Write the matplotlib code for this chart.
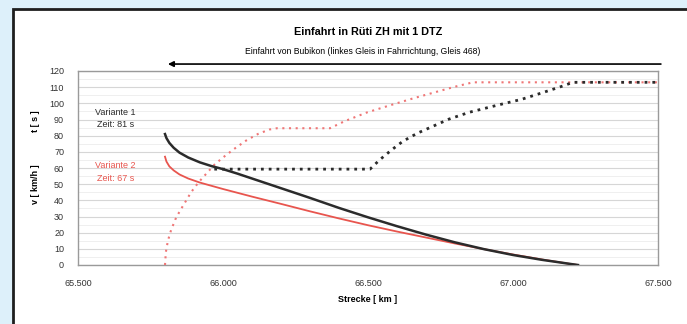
# Einfahrt Rüti ZH: speed and time over distance for two variants

import matplotlib
matplotlib.use("Agg")
from matplotlib import pyplot as plt
from matplotlib.patches import Rectangle

# Variante 1: speed [km/h]
v1_km = [65.800, 65.805, 65.815, 65.830, 65.850, 65.880, 65.920, 65.960, 66.000,
         66.050, 66.100, 66.200, 66.300, 66.400, 66.500, 66.600, 66.700, 66.800,
         66.900, 67.000, 67.100, 67.200, 67.224]
v1_kmh = [81, 78.5, 75.5, 72.5, 69.5, 66.5, 63.5, 61.2, 59.3,
          56.5, 53.5, 47.5, 41.5, 35.3, 29.5, 24, 18.8, 14,
          9.8, 6.2, 3.2, 0.6, 0]

# Variante 2: speed [km/h]
v2_km = [65.800, 65.805, 65.815, 65.830, 65.850, 65.880, 65.920, 65.960, 66.000,
         66.100, 66.200, 66.300, 66.400, 66.500, 66.600, 66.700, 66.800, 66.900,
         67.000, 67.100, 67.200, 67.224]
v2_kmh = [67, 64, 61, 58.5, 56, 53.5, 51, 49, 47,
          42.3, 37.8, 33.2, 28.8, 24.6, 20.7, 17, 13.3, 9.8,
          6.5, 3.4, 0.6, 0]

# Variante 1: time [s]
t1_km = [65.970, 66.507, 66.540, 66.580, 66.620, 66.670, 66.720, 66.780, 66.850,
         66.945, 67.030, 67.100, 67.160, 67.207, 67.500]
t1_s = [59.3, 59.3, 65, 71, 76.5, 81.5, 85.5, 90.3, 94.5,
        98.8, 102.5, 106.5, 110, 113, 113]

# Variante 2: time [s]
t2_km = [65.800, 65.803, 65.810, 65.820, 65.835, 65.850, 65.870, 65.890, 65.915,
         65.940, 65.970, 66.000, 66.040, 66.080, 66.120, 66.160, 66.186, 66.369,
         66.420, 66.497, 66.580, 66.660, 66.730, 66.800, 66.862, 67.500]
t2_s = [0, 8, 15, 21, 28, 33, 39, 45, 51,
        56, 62, 66.5, 72, 77, 81, 83.8, 84.6, 84.6,
        89, 94.4, 99, 103.3, 106.8, 110.3, 113, 113]

x_ticks = [65.5, 66.0, 66.5, 67.0, 67.5]
x_tick_labels = ["65.500", "66.000", "66.500", "67.000", "67.500"]
y_ticks = list(range(0, 121, 10))

BLACK = "#2b2b2b"
RED = "#e8554e"
PINK = "#ef7676"

plt.rcParams["font.family"] = ["Liberation Sans", "DejaVu Sans"]
plt.rcParams["font.size"] = 6.5

fig = plt.figure(figsize=(6.87, 3.24), dpi=100)
fig.patch.set_facecolor("#ddf0fa")

# White panel with dark border on the left and top
panel = Rectangle((13 / 687, -0.2), 1.2, 1.2 - 9 / 324, transform=fig.transFigure,
                  facecolor="white", edgecolor="#1e1e1e", lw=2, zorder=-10)
fig.patches.append(panel)

ax = fig.add_axes([78 / 687, 1 - 265 / 324, 580 / 687, 194 / 324])
ax.set_facecolor("white")

# Grid
ax.set_yticks(y_ticks)
ax.set_yticks(range(5, 120, 10), minor=True)
ax.grid(axis="y", which="major", color="#d6d6d6", lw=0.8)
ax.grid(axis="y", which="minor", color="#ececec", lw=0.6)
ax.set_axisbelow(True)

# Speed curves
ax.plot(v2_km, v2_kmh, color=RED, lw=1.3, zorder=3)
ax.plot(v1_km, v1_kmh, color=BLACK, lw=1.8, zorder=4)

# Time curves
ax.plot(t2_km, t2_s, color=PINK, lw=1.5, linestyle=(0, (1, 2.2)), zorder=3)
ax.plot(t1_km, t1_s, color=BLACK, lw=2.0, linestyle=(0, (1, 1.8)), zorder=4)

ax.set_xlim(65.5, 67.5)
ax.set_ylim(0, 120)
ax.set_xticks(x_ticks)
ax.set_xticklabels(x_tick_labels)
ax.tick_params(which="both", length=0, colors="#333333")
ax.tick_params(axis="x", pad=10)
ax.tick_params(axis="y", pad=10)
for spine in ax.spines.values():
    spine.set_color("#9a9a9a")
    spine.set_linewidth(1.0)

# Variant labels
ax.text(0.065, 0.755, "Variante 1\nZeit: 81 s", transform=ax.transAxes,
        ha="center", va="center", color=BLACK, linespacing=1.5)
ax.text(0.065, 0.48, "Variante 2\nZeit: 67 s", transform=ax.transAxes,
        ha="center", va="center", color=RED, linespacing=1.5)

# Direction arrow
ax.annotate("", xy=(65.81, 124.3), xytext=(67.51, 124.3),
            arrowprops=dict(arrowstyle="-|>", color="black", lw=1.2,
                            mutation_scale=8, shrinkA=0, shrinkB=0),
            annotation_clip=False)

# Titles and axis labels
fig.text(368 / 687, 1 - 32 / 324, "Einfahrt in Rüti ZH mit 1 DTZ",
         ha="center", va="center", fontsize=7.8, fontweight="bold")
fig.text(363 / 687, 1 - 52 / 324,
         "Einfahrt von Bubikon (linkes Gleis in Fahrrichtung, Gleis 468)",
         ha="center", va="center", fontsize=6.2)
fig.text(368 / 687, 1 - 300 / 324, "Strecke [ km ]",
         ha="center", va="center", fontweight="bold")
fig.text(36 / 687, 1 - 121 / 324, "t [ s ]", rotation=90,
         ha="center", va="center", fontweight="bold")
fig.text(36 / 687, 1 - 184 / 324, "v [ km/h ]", rotation=90,
         ha="center", va="center", fontweight="bold")

fig.savefig("out.png", dpi=100)
plt.close(fig)
